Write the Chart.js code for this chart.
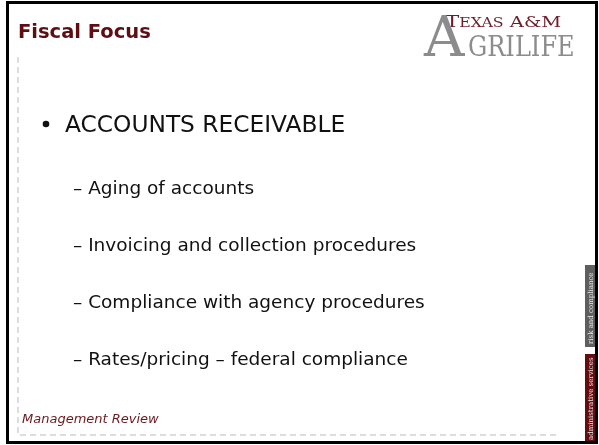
<!DOCTYPE html>
<html>
<head>
<meta charset="utf-8">
<script src="https://cdn.jsdelivr.net/npm/chart.js@4"></script>
<style>
body{margin:0;background:#fff;}
canvas{display:block;}
</style>
</head>
<body>
<canvas id="slide" width="599" height="445"></canvas>
<script>
// slide content
const slideTitle = "Fiscal Focus";
const mainBullets = ["ACCOUNTS RECEIVABLE"];
const subBullets = ["Aging of accounts", "Invoicing and collection procedures", "Compliance with agency procedures", "Rates/pricing \u2013 federal compliance"];
const footerText = "Management Review";
const logoTop = ["T", "EXAS", " A&M"];
const logoBottom = ["A", "GRILIFE"];
const sideTabs = ["risk and compliance", "administrative services"];

const maroon = "#5e0d12";
const sans = "'DejaVu Sans', Verdana, sans-serif";
const serif = "'DejaVu Serif', 'Liberation Serif', serif";

const slidePlugin = {
    id: "slide",
    beforeDraw(chart){
        let ctx = chart.ctx;
        ctx.save();
        ctx.fillStyle = "#fff";
        ctx.fillRect(0, 0, chart.width, chart.height);
        ctx.restore();
    },
    afterDraw(chart){
        let ctx = chart.ctx;
        ctx.save();

        // dashed frame lines
        ctx.strokeStyle = "#d2d2d2";
        ctx.lineWidth = 1.5;
        ctx.setLineDash([6, 4]);
        ctx.beginPath();
        ctx.moveTo(18, 57);
        ctx.lineTo(18, 435);
        ctx.lineTo(556, 435);
        ctx.stroke();
        ctx.setLineDash([]);

        // title
        ctx.fillStyle = maroon;
        ctx.font = "bold 19.5px " + sans;
        ctx.textBaseline = "alphabetic";
        ctx.fillText(slideTitle, 18, 38);

        // logo
        ctx.save();
        ctx.translate(445, 27);
        ctx.scale(1.26, 1);
        ctx.fillStyle = "#6e1c2c";
        ctx.font = "17px " + serif;
        ctx.fillText(logoTop[0], 0, 0);
        let x = ctx.measureText(logoTop[0]).width;
        ctx.font = "12.5px " + serif;
        ctx.fillText(logoTop[1], x, 0);
        x += ctx.measureText(logoTop[1]).width;
        ctx.font = "15.5px " + serif;
        ctx.fillText(logoTop[2], x, 0);
        ctx.restore();

        ctx.fillStyle = "#8c8c8c";
        ctx.font = "56px " + serif;
        ctx.fillText(logoBottom[0], 424, 56);
        ctx.save();
        ctx.translate(468, 56);
        ctx.scale(0.86, 1);
        ctx.font = "28px " + serif;
        ctx.fillText(logoBottom[1], 0, 0);
        ctx.restore();

        // bullets
        ctx.fillStyle = "#111";
        ctx.font = "23.3px " + sans;
        mainBullets.forEach(function(t, i){
            ctx.beginPath();
            ctx.arc(46, 124 + i*57, 3.3, 0, Math.PI*2);
            ctx.fill();
            ctx.fillText(t, 65, 132 + i*57);
        });
        ctx.font = "18.5px " + sans;
        subBullets.forEach(function(t, i){
            ctx.fillText("\u2013 " + t, 73, 194 + i*57);
        });

        // footer
        ctx.fillStyle = "#6a1a20";
        ctx.font = "italic 13px " + sans;
        ctx.fillText(footerText, 22, 423);

        // side tabs
        const tabBoxes = [[585, 265, 10, 82, "#5e5e5e"], [585, 354, 10, 89, "#650c10"]];
        tabBoxes.forEach(function(b, i){
            ctx.fillStyle = b[4];
            ctx.fillRect(b[0], b[1], b[2], b[3]);
            ctx.save();
            ctx.translate(b[0] + b[2]/2 + 2.5, b[1] + b[3] - 3);
            ctx.rotate(-Math.PI/2);
            ctx.fillStyle = "#e8e8e8";
            ctx.font = "7px " + serif;
            let w = ctx.measureText(sideTabs[i]).width;
            let s = Math.min(1, (b[3] - 6) / w);
            ctx.scale(s, 1);
            ctx.fillText(sideTabs[i], 0, 0);
            ctx.restore();
        });

        // black border
        ctx.strokeStyle = "#000";
        ctx.lineWidth = 3;
        ctx.strokeRect(7.5, 2.5, 589, 440);
        ctx.restore();
    }
};

new Chart(document.getElementById("slide"), {
    type: "scatter",
    data: {datasets: [{data: []}]},
    options: {
        responsive: false,
        animation: false,
        events: [],
        plugins: {legend: {display: false}, tooltip: {enabled: false}},
        scales: {x: {display: false}, y: {display: false}}
    },
    plugins: [slidePlugin]
});
</script>
</body>
</html>
